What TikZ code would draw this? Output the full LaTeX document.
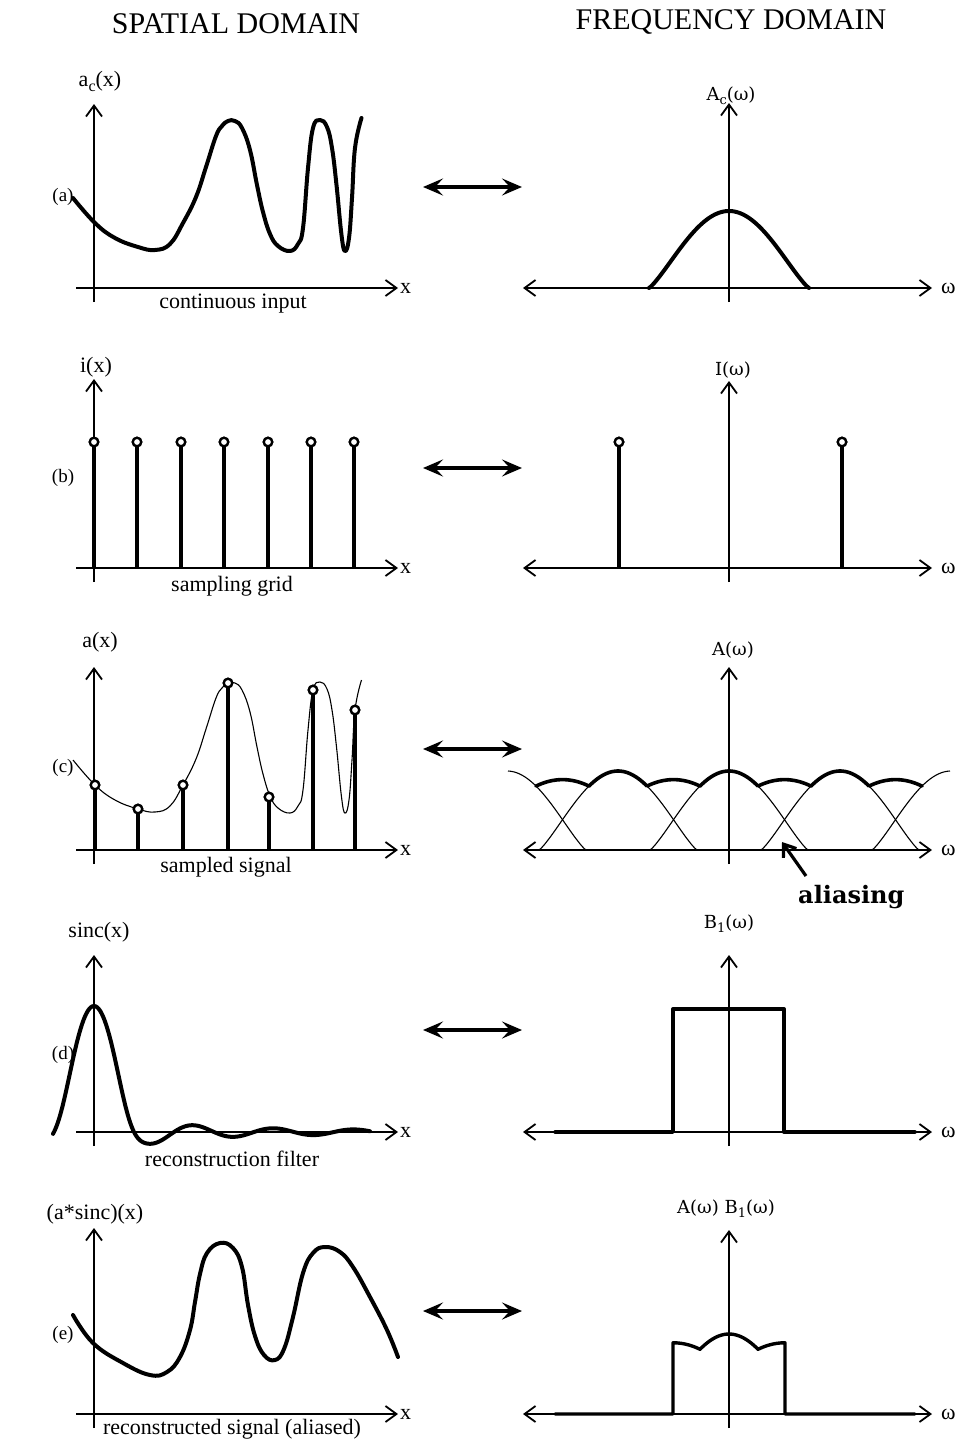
\documentclass[tikz,border=0pt]{standalone}
\usepackage{fontspec}
\setmainfont{Liberation Serif}
\newfontfamily\djv{DejaVu Serif}
\usetikzlibrary{arrows.meta}
\newcommand\myfs[1]{\fontsize{#1}{#1}\selectfont}
\newcommand\lsub[1]{\raisebox{-0.5ex}{\myfs{16}#1}}
\newcommand\rsub[1]{\raisebox{-0.45ex}{\myfs{13}#1}}
% left axes: #1 prefix, #2 axis y, #3 top y
\newcommand\LeftAxes[3]{%
  \coordinate (#1xl) at (76,#2); \coordinate (#1xr) at (398,#2);
  \coordinate (#1yb) at (94,#2+14); \coordinate (#1yt) at (94,#3);
  \draw[axis,axarr] (#1xl) -- (#1xr);
  \draw[axis,axarr] (#1yb) -- (#1yt);
  \node[lab,anchor=west] (#1xlab) at (400,#2) {x};}
\newcommand\RightAxes[3]{%
  \coordinate (#1xl) at (523,#2); \coordinate (#1xr) at (932,#2);
  \coordinate (#1yb) at (729,#2+14); \coordinate (#1yt) at (729,#3);
  \draw[axis,bothbarb] (#1xl) -- (#1xr);
  \draw[axis,axarr] (#1yb) -- (#1yt);
  \node[lab,anchor=west] (#1wlab) at (941,#2) {ω};}
\newcommand\ACurve[1]{\draw[#1] plot[smooth,tension=0.7] coordinates {
 (73,198) (95,223) (115,238) (138,247) (155,250) (170,244) (183,223) (196,197)
 (206,167) (216,136) (222,126) (228,121) (235,121) (242,128) (250,150) (257,185)
 (263,212) (270,234) (278,246) (290,251) (298,244) (303,228) (308,168) (313,128)
 (320,120) (327,127) (332,148) (336.5,185) (341.5,235) (345,251) (349,238) (352,198)
 (355,148) (361.5,118)};}
\begin{document}
\begin{tikzpicture}[x=1pt,y=-1pt,
  declare function={
    rep(\t)=(max(cos(90*\t),0.0001))^1.2;
    sincw(\t)=sin(180*\t)/(pi*\t)*(0.42+0.58*exp(-(\t*\t)*(\t*\t)));
    low(\p,\q)=6.5*(1-((\p-\q)*(\p-\q))/702.25);
  },
  axis/.style={line width=1.8pt},
  axarr/.style={-{Straight Barb[length=11pt,width=16pt]}},
  bothbarb/.style={{Straight Barb[length=11pt,width=16pt]}-{Straight Barb[length=11pt,width=16pt]}},
  curve/.style={line width=4pt,line join=round,line cap=round},
  thin curve/.style={line width=1.1pt},
  stem/.style={line width=3.3pt},
  sdot/.style={circle,draw,fill=white,line width=2.3pt,minimum size=8.5pt,inner sep=0pt},
  lab/.style={font=\myfs{22},inner sep=0pt},
  rlab/.style={font=\djv\myfs{18},inner sep=0pt},
  plab/.style={font=\myfs{19},inner sep=0pt},
  dbl/.style={line width=3.8pt,{Stealth[length=20pt,width=17pt,inset=8pt]}-{Stealth[length=20pt,width=17pt,inset=8pt]}},
]
\useasboundingbox (0,0) rectangle (978,1445);

% titles
\node[font=\myfs{30},inner sep=0pt] (t1) at (236,24) {SPATIAL DOMAIN};
\node[font=\myfs{30},inner sep=0pt] (t2) at (731,22) {FREQUENCY DOMAIN};

% panel letters
\node[plab] (pa) at (63,197) {(a)};
\node[plab] (pb) at (63,478) {(b)};
\node[plab] (pc) at (63,768) {(c)};
\node[plab] (pd) at (63,1055) {(d)};
\node[plab] (pe) at (63,1335) {(e)};

% double arrows
\foreach \yy/\nm in {187/a,468/b,749/c,1030/d,1311/e}{
  \coordinate (dl\nm) at (423,\yy); \coordinate (dr\nm) at (522,\yy);
  \draw[dbl] (dl\nm) -- (dr\nm);
}

% ---------- (a) ----------
\LeftAxes{A}{288}{104}
\node[lab,anchor=base] (la) at (100,86) {a\lsub{c}(x)};
\node[lab,anchor=base] (sa) at (233,308) {continuous input};
\ACurve{curve}
\RightAxes{RA}{288}{103}
\node[rlab,anchor=base] (ra) at (731,100) {A\rsub{c}(ω)};
\draw[curve] plot[domain=-1:1,samples=81] ({729+80*\x},{288-77*rep(\x)});

% ---------- (b) ----------
\LeftAxes{B}{568}{379}
\node[lab,anchor=base] (lb) at (96,372) {i(x)};
\node[lab,anchor=base] (sb) at (232,591) {sampling grid};
\foreach \xx [count=\k] in {94,137,181,224,268,311,354}{
  \node[sdot] (bd\k) at (\xx,442) {};
  \coordinate (bs\k) at (\xx,568);
  \draw[stem] (bs\k) -- (bd\k.south);
  \node[sdot] at (bd\k) {};
}
\RightAxes{RB}{568}{381}
\node[rlab,anchor=base] (rb) at (733,375) {I(ω)};
\foreach \xx [count=\k] in {619,842}{
  \node[sdot] (rbd\k) at (\xx,442) {};
  \coordinate (rbs\k) at (\xx,568);
  \draw[stem] (rbs\k) -- (rbd\k.south);
  \node[sdot] at (rbd\k) {};
}

% ---------- (c) ----------
\LeftAxes{C}{850}{667}
\node[lab,anchor=base] (lc) at (100,647) {a(x)};
\node[lab,anchor=base] (sc) at (226,872) {sampled signal};
\ACurve{thin curve,yshift=-562pt}
\foreach \xx/\yy [count=\k] in {95/785,138/809,183/785,228/683,269/797,313/690,355/710}{
  \node[sdot] (cd\k) at (\xx,\yy) {};
  \coordinate (cs\k) at (\xx,850);
  \draw[stem] (cs\k) -- (cd\k.south);
  \node[sdot] at (cd\k) {};
}
\RightAxes{RC}{850}{667}
\node[rlab,anchor=base] (rc) at (733,655) {A(ω)};
\begin{scope}[thin curve]
  \draw plot[domain=0.0127:1,samples=40] ({507+79*\x},{850-79*rep(\x)});
  \foreach \cc in {618,729,840}{
    \draw plot[domain=-1:1,samples=80] ({\cc+79*\x},{850-79*rep(\x)});
  }
  \draw plot[domain=-1:-0.0127,samples=40] ({951+79*\x},{850-79*rep(\x)});
\end{scope}
\draw[curve,line width=3.6pt]
  plot[domain=536:589,samples=20] (\x,{786.1-low(\x,562.5)})
  -- plot[domain=-0.367:0.367,samples=30] ({618+79*\x},{850-79*rep(\x)})
  -- plot[domain=647:700,samples=20] (\x,{786.1-low(\x,673.5)})
  -- plot[domain=-0.367:0.367,samples=30] ({729+79*\x},{850-79*rep(\x)})
  -- plot[domain=758:811,samples=20] (\x,{786.1-low(\x,784.5)})
  -- plot[domain=-0.367:0.367,samples=30] ({840+79*\x},{850-79*rep(\x)})
  -- plot[domain=869:922,samples=20] (\x,{786.1-low(\x,895.5)});
\node[font=\djv\bfseries\myfs{24},inner sep=0pt,anchor=base west] (alias) at (798,903) {aliasing};
\coordinate (aliastip) at (782,842);
\coordinate (aliastail) at (806,876);
\draw[line width=3.2pt,-{Straight Barb[length=11pt,width=16pt]}] (aliastail) -- (aliastip);

% ---------- (d) ----------
\LeftAxes{D}{1132}{955}
\node[lab,anchor=base] (ld) at (99,937) {sinc(x)};
\node[lab,anchor=base] (sd) at (232,1166) {reconstruction filter};
\draw[curve] plot[domain=53:370,samples=260] (\x,{1132-126*sincw((\x-94)/40)});
\RightAxes{RD}{1132}{955}
\node[rlab,anchor=base] (rd) at (729,928) {B\rsub{1}(ω)};
\draw[curve,line width=3.4pt] (555,1132) -- (673,1132) -- (673,1009) -- (784,1009) -- (784,1132) -- (915,1132);

% ---------- (e) ----------
\LeftAxes{E}{1414}{1228}
\node[lab,anchor=base] (le) at (95,1219) {(a*sinc)(x)};
\node[lab,anchor=base] (se) at (232,1434) {reconstructed signal (aliased)};
\draw[curve] plot[smooth,tension=0.7] coordinates {
 (73,1315) (93,1343) (123,1363) (150,1375) (167,1372) (180,1357) (190,1330) (195,1302)
 (200,1274) (207,1253) (220,1243) (233,1248) (242,1267) (248,1305) (255,1336) (264,1355)
 (275,1360) (284,1349) (293,1317) (303,1273) (313,1253) (325,1247) (340,1252) (353,1267)
 (370,1297) (387,1330) (398,1357)};
\RightAxes{RE}{1414}{1230}
\node[rlab,anchor=base] (re) at (726,1213) {A(ω) B\rsub{1}(ω)};
\draw[curve,line width=3.4pt] (555,1414) -- (673,1414)
  -- plot[domain=673:700,samples=15] (\x,{1349.3-low(\x,673.5)})
  -- plot[domain=-0.367:0.367,samples=30] ({729+79*\x},{1414-80*rep(\x)})
  -- plot[domain=758:785,samples=15] (\x,{1349.3-low(\x,784.5)})
  -- (785,1414) -- (915,1414);
\end{tikzpicture}
\end{document}
